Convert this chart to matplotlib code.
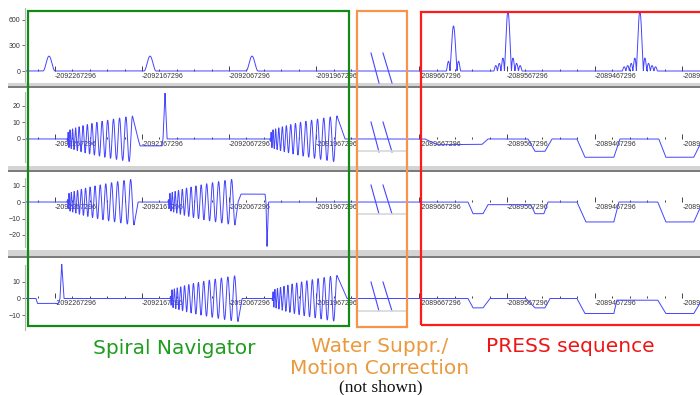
import numpy as np
import matplotlib
matplotlib.use("Agg")
import matplotlib.pyplot as plt
from matplotlib.patches import Rectangle
from matplotlib.lines import Line2D
from matplotlib.ticker import FuncFormatter

W, H = 700, 395
BLUE = "#4444ff"
TXT = "#333333"

# time axis: labels are absolute, event times are offsets (thousands of units)
LEFT_REF = -2092267296
RIGHT_REF = -2089667296
LEFT_MAJOR = [LEFT_REF + i * 100000 for i in range(4)]
RIGHT_MAJOR = [RIGHT_REF + i * 100000 for i in range(4)]

# row 1: RF
NAV_RF_CENTER = [-6.9, 109.2, 226.4]
NAV_RF_WIDTH = 13.8
NAV_RF_AMP = 175
PRESS_RF_CENTER = [38.8, 100.9, 251.4]
PRESS_RF_LOBE = [4.0, 4.0, 4.0]
PRESS_RF_SIDELOBES = [1, 3, 4]
PRESS_RF_AMP = [530, 700, 700]

# spiral readouts: (start, last peak, end of ramp, sign of last peak)
SPIRAL_AMP = 14
SPIRAL_CYCLES = 15
GX_SPIRALS = [(13.8, 89.0, 95.4, 1), (247.0, 324.0, 333.2, 1)]
GY_SPIRALS = [(13.8, 90.8, 95.4, -1), (129.8, 206.8, 210.3, -1)]
GZ_SPIRALS = [(132.1, 210.3, 214.9, -1), (249.3, 324.0, 335.5, 1)]

# piecewise-linear gradient lobes, navigator part
GX_NAV_T = [95.4, 97.7, 122.9, 124.1, 126.4, 128.7]
GX_NAV_V = [0, -4.2, -4.2, 0, 28, 0]
GY_NAV_T = [210.3, 213.7, 241.3, 242.4, 243.6, 245.3]
GY_NAV_V = [0, 4.8, 4.8, 0, -27, 0]
GZ_NAV_T = [-21.8, -20.3, 3.8, 5.7, 7.7, 10.3]
GZ_NAV_V = [0, -3, -3, 0, 21, 0]

# PRESS crushers
GX_PRESS_T = [6.3, 20.0, 71.3, 78.1, 123.7, 131.7, 143.1, 151.1,
              179.6, 188.7, 221.7, 228.6, 273.0, 281.0, 312.9, 323.2]
GX_PRESS_V = [0, -3.5, -3.3, 0, 0, -7.5, -7.5, 0,
              0, -11.1, -11.1, 0, 0, -11.1, -11.1, 0]
GY_PRESS_T = [55.3, 61.0, 72.4, 78.1, 127.1, 131.7, 141.9, 146.5,
              179.6, 189.8, 221.7, 227.4, 271.8, 281.0, 312.9, 323.2]
GY_PRESS_V = [0, -7.1, -7.1, -1.6, -1.6, -7.1, -7.1, 0,
              0, -12.1, -12.1, 0, 0, -12.1, -12.1, 0]
GZ_PRESS_T = [55.3, 61.0, 72.4, 80.4, 121.4, 131.7, 143.1, 148.8,
              179.6, 188.7, 221.7, 225.1, 271.8, 281.0, 312.9, 323.2]
GZ_PRESS_V = [0, -5.7, -5.7, 0, 0, -5.7, -5.7, 0,
              0, -9.1, -9.1, -1.0, -1.0, -9.1, -9.1, 0]

Y_TICKS = [[0, 300, 600], [0, 10, 20], [-20, -10, 0, 10], [-10, 0, 10]]


def waveform(t, kt=(), kv=(), spirals=(), bumps=(), sincs=()):
    y = np.zeros_like(t)
    if len(kt):
        y += np.interp(t, kt, kv, left=0, right=0)
    for s, e, r, sign in spirals:
        tau = (t - s) / (e - s)
        m = (tau >= 0) & (tau <= 1)
        tm = tau[m]
        env = SPIRAL_AMP * np.sqrt(0.12 + 0.88 * tm) * np.clip(tm / 0.02, 0, 1)
        y[m] += sign * env * np.cos(2 * np.pi * SPIRAL_CYCLES * (tm ** 0.65 - 1))
        m2 = (t > e) & (t <= r)
        y[m2] += sign * SPIRAL_AMP * (r - t[m2]) / (r - e)
    for c, w, a in bumps:
        m = np.abs(t - c) <= w / 2
        y[m] += a * 0.5 * (1 + np.cos(2 * np.pi * (t[m] - c) / w))
    for c, w, n, a in sincs:
        m = np.abs(t - c) <= (n + 1) * w
        y[m] += a * np.abs(np.sinc((t[m] - c) / w))
    return y


def fr(x0, y0, x1, y1):
    return [x0 / W, 1 - y1 / H, (x1 - x0) / W, (y1 - y0) / H]


fig = plt.figure(figsize=(7, 3.95), dpi=100)
fig.patch.set_facecolor("white")

rows = [(5, 83, (-141, 776), (-141, 741)),
        (88, 166, (-16.4, 30.9), (-13.9, 28.5)),
        (172, 250, (-29.1, 18.2), (-27.3, 14.5)),
        (257, 335, (-22.1, 25.1), (-19.0, 20.3))]

tl = np.linspace(-34.5, 347.0, 9000)
tr = np.linspace(-71.3, 319.8, 9000)

left_data = [
    dict(bumps=[(c, NAV_RF_WIDTH, NAV_RF_AMP) for c in NAV_RF_CENTER]),
    dict(kt=GX_NAV_T, kv=GX_NAV_V, spirals=GX_SPIRALS),
    dict(kt=GY_NAV_T, kv=GY_NAV_V, spirals=GY_SPIRALS),
    dict(kt=GZ_NAV_T, kv=GZ_NAV_V, spirals=GZ_SPIRALS),
]
right_data = [
    dict(sincs=list(zip(PRESS_RF_CENTER, PRESS_RF_LOBE,
                        PRESS_RF_SIDELOBES, PRESS_RF_AMP))),
    dict(kt=GX_PRESS_T, kv=GX_PRESS_V),
    dict(kt=GY_PRESS_T, kv=GY_PRESS_V),
    dict(kt=GZ_PRESS_T, kv=GZ_PRESS_V),
]

fmt = FuncFormatter(lambda v, p: "%d" % round(v))

for i, (y0, y1, ylim, bounds) in enumerate(rows):
    for side in ("L", "R"):
        if side == "L":
            ax = fig.add_axes(fr(25, y0, 357, y1))
            t, ref, d, majors = tl, LEFT_REF, left_data[i], LEFT_MAJOR
            minors = [LEFT_REF + k * 20000 for k in range(-1, 18) if k % 5]
        else:
            ax = fig.add_axes(fr(357, y0, 700, y1))
            t, ref, d, majors = tr, RIGHT_REF, right_data[i], RIGHT_MAJOR
            minors = [RIGHT_REF + k * 20000 for k in range(1, 17) if k % 5]
        ax.patch.set_alpha(0)
        ax.plot(ref + 1000 * t, waveform(t, **d), color=BLUE, lw=0.7,
                solid_joinstyle="miter", zorder=2)
        ax.set_xlim(ref + 1000 * t[0], ref + 1000 * t[-1])
        ax.set_ylim(*ylim)
        ax.spines["top"].set_visible(False)
        ax.spines["right"].set_visible(False)
        ax.spines["bottom"].set_position(("data", 0))
        ax.spines["bottom"].set_visible(False)
        ax.set_xticks(majors)
        ax.set_xticks(minors, minor=True)
        ax.xaxis.set_major_formatter(fmt)
        ax.tick_params(axis="x", which="major", direction="in", length=3.4,
                       width=0.6, color="#222222", pad=1.2, labelsize=5,
                       labelcolor=TXT)
        ax.tick_params(axis="x", which="minor", direction="in", length=1.6,
                       width=0.6, color="#222222")
        for lab in ax.get_xticklabels():
            lab.set_horizontalalignment("left")
            lab.set_family("Liberation Sans")
        if side == "L":
            ax.spines["left"].set_color("#b4b4b4")
            ax.spines["left"].set_linewidth(0.8)
            ax.spines["left"].set_bounds(*bounds)
            ax.set_yticks(Y_TICKS[i])
            ax.tick_params(axis="y", direction="out", length=2.2, width=0.6,
                           color="#555555", pad=1, labelsize=5,
                           labelcolor=TXT)
            for lab in ax.get_yticklabels():
                lab.set_family("Liberation Sans")
        else:
            ax.spines["left"].set_visible(False)
            ax.set_yticks([])

# window splitters between the rows
for ya, yb, yc in [(83, 86, 88), (165.5, 170, 172), (250, 255.5, 257.5)]:
    fig.add_artist(Rectangle((8 / W, 1 - yb / H), 692 / W, (yb - ya) / H,
                             transform=fig.transFigure, fc="#d4d4d4", ec="none"))
    fig.add_artist(Rectangle((8 / W, 1 - yc / H), 692 / W, (yc - yb) / H,
                             transform=fig.transFigure, fc="#7c7c7c", ec="none"))

# axis break marks and the short grey rules under them
for ya, yb in [(53, 83), (122, 152), (185, 214), (282, 311)]:
    for xa, xb in [(371, 379), (383, 392)]:
        fig.add_artist(Line2D([xa / W, xb / W], [1 - ya / H, 1 - yb / H],
                              transform=fig.transFigure, color=BLUE, lw=0.8))
for y in [151, 214, 311]:
    fig.add_artist(Line2D([357 / W, 405 / W], [1 - y / H, 1 - y / H],
                          transform=fig.transFigure, color="#d8d8d8", lw=1.2))

# section boxes
for x0, y0, x1, y1, c in [(28, 11, 349, 326, "#138a13"),
                          (357, 11, 407, 327, "#f7944c"),
                          (421, 12, 708, 325, "#ff1a1a")]:
    fig.add_artist(Rectangle((x0 / W, 1 - y1 / H), (x1 - x0) / W, (y1 - y0) / H,
                             transform=fig.transFigure, fill=False, ec=c,
                             lw=1.6, zorder=10))

sans = dict(family="DejaVu Sans", fontsize=14.5, ha="center", va="center")
fig.text(174 / W, 1 - 348 / H, "Spiral Navigator", color="#1f9d1f", **sans)
fig.text(380 / W, 1 - 346 / H, "Water Suppr./", color="#ea9a3e", **sans)
fig.text(380 / W, 1 - 369 / H, "Motion Correction", color="#ea9a3e", **sans)
fig.text(570 / W, 1 - 347 / H, "PRESS sequence", color="#ee1515", **sans)
fig.text(381 / W, 1 - 387 / H, "(not shown)", color="#111111",
         family="Liberation Serif", fontsize=12.5, ha="center", va="center")

fig.savefig("out.png", dpi=100, facecolor="white")
